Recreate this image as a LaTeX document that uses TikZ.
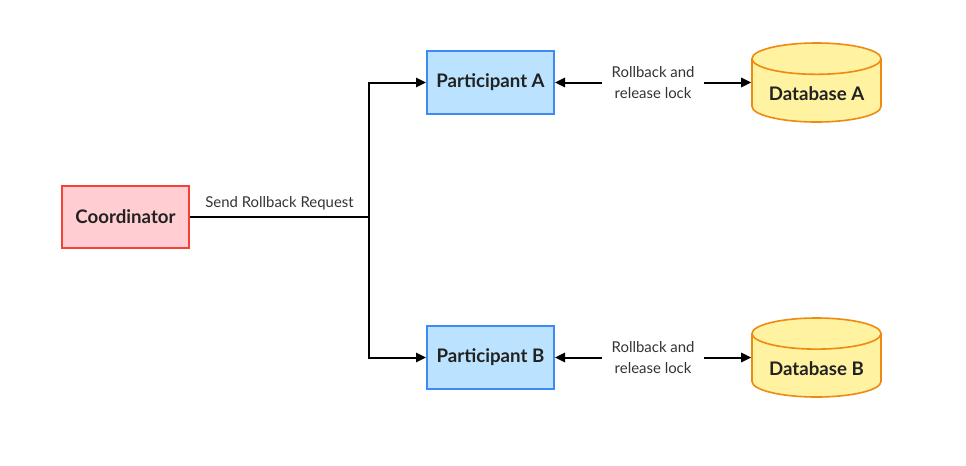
\documentclass[tikz,border=0pt]{standalone}
\usepackage{fontspec}
\setmainfont{Lato}
\usetikzlibrary{arrows.meta,shapes.geometric}
\definecolor{coordfill}{HTML}{FFCDD2}
\definecolor{coorddraw}{HTML}{F44336}
\definecolor{partfill}{HTML}{BBE3FF}
\definecolor{partdraw}{HTML}{3D8BF2}
\definecolor{dbfill}{HTML}{FFF2A0}
\definecolor{dbdraw}{HTML}{EE8A12}
\definecolor{txt}{HTML}{222222}
\definecolor{lbl}{HTML}{333333}

\begin{document}
\begin{tikzpicture}[x=0.75pt,y=-0.75pt,
  box/.style={draw, line width=1.5pt, minimum width=95.25pt, minimum height=47pt,
    text=txt, font=\fontsize{14}{16}\selectfont\bfseries},
  coordbox/.style={box, fill=coordfill, draw=coorddraw},
  partbox/.style={box, fill=partfill, draw=partdraw},
  dbbox/.style={cylinder, shape border rotate=90, aspect=0.3, draw=dbdraw, fill=dbfill,
    line width=1.2pt, minimum width=96.75pt, minimum height=59.25pt, anchor=shape center,
    text=txt, font=\fontsize{14}{16}\selectfont\bfseries},
  msg/.style={font=\fontsize{11.2}{15.75}\selectfont, text=lbl, align=center},
  tip/.style={Triangle[length=7.5pt,width=7pt]},
  arr/.style={line width=1.5pt, -{Triangle[length=7.5pt,width=7pt]}}]
  \useasboundingbox (0,0) rectangle (966,465);

  % nodes
  \node[coordbox] (coord) at (125.5,217) {Coordinator};
  \node[partbox] (pA) at (490.5,82.5) {Participant A};
  \node[partbox] (pB) at (490.5,357.5) {Participant B};
  \node[dbbox] (dbA) at (816.5,82.5) {Database A};
  \node[dbbox] (dbB) at (816.5,357.5) {Database B};
  \coordinate (split) at (369,217);

  % request
  \draw[line width=1.5pt] (coord) -- node[msg, above, yshift=1pt] {Send Rollback Request} (split);
  \draw[arr] (split) |- (pA);
  \draw[arr] (split) |- (pB);

  % rollback
  \draw[arr, {Triangle[length=7.5pt,width=7pt]}-{Triangle[length=7.5pt,width=7pt]}]
    (pA) -- node[msg, fill=white, inner xsep=7pt] {Rollback and\\release lock} (pA -| dbA.west);
  \draw[arr, {Triangle[length=7.5pt,width=7pt]}-{Triangle[length=7.5pt,width=7pt]}]
    (pB) -- node[msg, fill=white, inner xsep=7pt] {Rollback and\\release lock} (pB -| dbB.west);
\end{tikzpicture}
\end{document}
